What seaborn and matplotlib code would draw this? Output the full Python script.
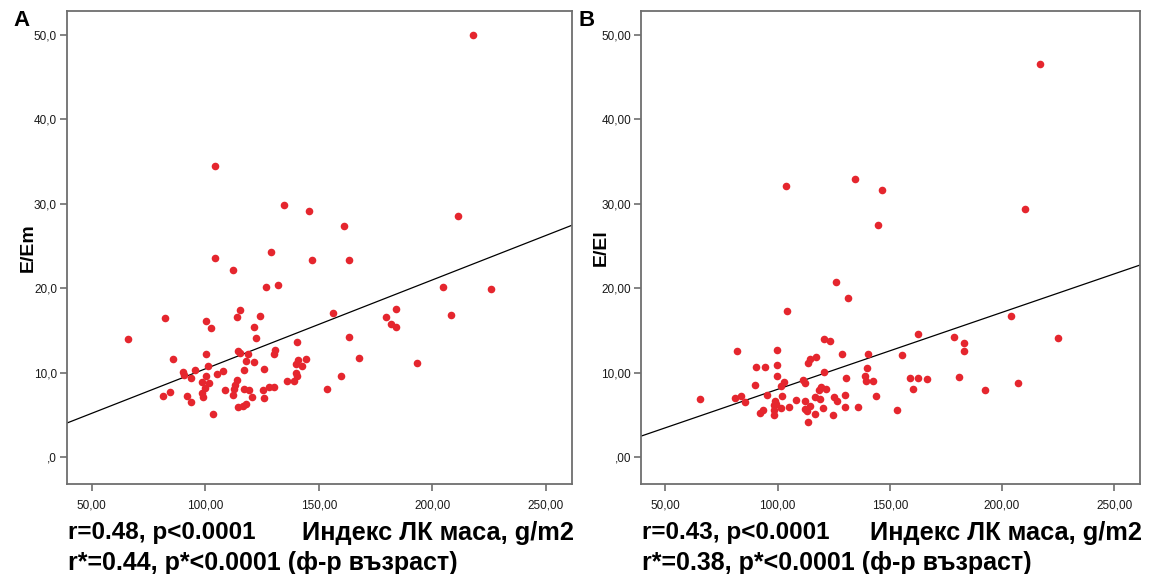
import matplotlib
matplotlib.use("Agg")
import matplotlib.pyplot as plt
import pandas as pd
import seaborn as sns

# LV mass index (g/m2) and E/Em, panel A
lvmi_a = [
    104.1, 134.8, 145.6, 104.4, 129.1, 147.0, 112.2, 126.6, 131.9, 82.3,
    100.2, 102.7, 115.2, 114.0, 124.0, 121.5, 122.2, 140.4, 156.1, 65.8,
    85.6, 100.2, 114.4, 115.2, 119.0, 130.9, 130.4, 118.0, 121.5, 140.9,
    144.5, 142.6, 140.1, 101.2, 90.4, 90.7, 95.3, 93.7, 105.3, 108.0,
    117.2, 125.9, 100.2, 139.8, 140.4, 136.2, 138.9, 98.6, 101.7, 114.0,
    113.1, 99.7, 108.5, 112.7, 117.2, 119.4, 125.3, 128.2, 130.4, 153.5,
    81.2, 84.3, 92.1, 93.9, 98.6, 99.2, 112.2, 120.4, 126.0, 114.3,
    116.5, 118.1, 103.4, 217.8, 161.1, 211.4, 163.3, 204.9, 225.9, 183.9,
    179.6, 181.9, 183.9, 208.0, 163.2, 167.6, 193.1, 159.8,
]
e_em = [
    34.41, 29.83, 29.17, 23.56, 24.23, 23.37, 22.14, 20.09, 20.32, 16.45,
    16.06, 15.23, 17.37, 16.57, 16.69, 15.35, 14.13, 13.58, 17.05, 13.97,
    11.65, 12.19, 12.59, 12.31, 12.16, 12.71, 12.19, 11.36, 11.21, 11.53,
    11.56, 10.74, 10.97, 10.77, 10.11, 9.75, 10.30, 9.32, 9.87, 10.14,
    10.30, 10.46, 9.64, 9.99, 9.55, 9.04, 9.00, 8.84, 8.76, 9.08,
    8.49, 8.17, 7.98, 8.10, 8.10, 7.90, 7.93, 8.29, 8.29, 8.10,
    7.27, 7.66, 7.19, 6.56, 7.58, 7.10, 7.30, 7.10, 7.03, 5.97,
    6.00, 6.32, 5.05, 50.00, 27.31, 28.53, 23.37, 20.12, 19.85, 17.48,
    16.57, 15.71, 15.39, 16.77, 14.25, 11.68, 11.09, 9.55,
]

# LV mass index (g/m2) and E/El, panel B
lvmi_b = [
    103.6, 134.3, 146.5, 144.9, 126.2, 131.4, 104.0, 120.9, 123.4, 81.7,
    99.8, 128.6, 140.4, 155.4, 114.6, 117.2, 113.4, 90.2, 94.6, 99.8,
    139.7, 120.9, 99.6, 130.6, 138.8, 139.4, 142.5, 102.8, 101.3, 111.5,
    112.4, 90.0, 119.4, 121.6, 118.3, 65.6, 81.0, 83.9, 85.3, 95.1,
    102.0, 108.0, 112.3, 116.5, 119.1, 125.0, 129.9, 126.5, 144.0, 98.9,
    98.6, 101.3, 105.0, 112.1, 114.6, 120.3, 130.1, 135.7, 153.2, 92.0,
    93.3, 98.6, 112.9, 116.7, 124.7, 113.7, 217.1, 210.4, 204.2, 225.1,
    162.7, 178.8, 183.0, 183.1, 159.1, 162.5, 166.8, 160.5, 181.0, 192.3,
    207.2, 98.2, 99.4,
]
e_el = [
    32.04, 32.91, 31.61, 27.43, 20.76, 18.87, 17.25, 13.97, 13.73, 12.55,
    12.67, 12.16, 12.19, 12.07, 11.65, 11.80, 11.09, 10.65, 10.65, 10.89,
    10.58, 10.11, 9.55, 9.40, 9.55, 9.00, 8.96, 8.84, 8.45, 9.08,
    8.76, 8.49, 8.25, 8.05, 7.90, 6.87, 6.95, 7.27, 6.48, 7.38,
    7.27, 6.79, 6.63, 7.10, 6.87, 7.10, 7.34, 6.63, 7.19, 6.63,
    6.16, 5.76, 5.97, 5.73, 6.00, 5.80, 5.88, 5.97, 5.56, 5.21,
    5.53, 4.97, 5.45, 5.05, 5.02, 4.19, 46.52, 29.32, 16.65, 14.09,
    14.52, 14.25, 13.54, 12.55, 9.35, 9.35, 9.23, 8.05, 9.47, 7.98,
    8.76, 5.53, 6.32,
]

# Linear fit lines: intercept, slope
fit_a = (-0.10, 0.1053)
fit_b = (-1.10, 0.0911)

x_ticks = [50, 100, 150, 200, 250]
x_tick_labels = ["50,00", "100,00", "150,00", "200,00", "250,00"]
y_ticks = [0, 10, 20, 30, 40, 50]
y_tick_labels_a = [",0", "10,0", "20,0", "30,0", "40,0", "50,0"]
y_tick_labels_b = [",00", "10,00", "20,00", "30,00", "40,00", "50,00"]

panel_letters = ["A", "B"]
y_titles = ["E/Em", "E/El"]
x_title = "Индекс ЛК маса, g/m2"
stats_main = ["r=0.48, p<0.0001", "r=0.43, p<0.0001"]
stats_adj = ["r*=0.44, p*<0.0001 (ф-р възраст)", "r*=0.38, p*<0.0001 (ф-р възраст)"]

XLIM = (39.0, 261.5)
YLIM = (-3.2, 52.8)

sns.set_style("ticks")
plt.rcParams["font.family"] = ["Liberation Sans", "DejaVu Sans"]

W, H = 1154, 574
fig = plt.figure(figsize=(W / 100, H / 100), dpi=100)

panels = [
    dict(x=lvmi_a, y=e_em, fit=fit_a, ylabels=y_tick_labels_a,
         box=(66.7, 572.0), letter_xy=(21, 21), ytitle_x=28),
    dict(x=lvmi_b, y=e_el, fit=fit_b, ylabels=y_tick_labels_b,
         box=(640.7, 1140.0), letter_xy=(587, 21), ytitle_x=601),
]

top_px, bottom_px = 11.0, 484.0
red = "#e5262e"
spine_col = "#6e6e6e"
txt = "black"
note_font = dict(fontweight="bold", va="center", color=txt)

for i, p in enumerate(panels):
    l, r = p["box"]
    ax = fig.add_axes([l / W, 1 - bottom_px / H, (r - l) / W, (bottom_px - top_px) / H])
    df = pd.DataFrame({"lvmi": p["x"], "ratio": p["y"]})
    sns.scatterplot(data=df, x="lvmi", y="ratio", ax=ax, color=red,
                    s=30, linewidth=0, alpha=1, zorder=3)
    b0, b1 = p["fit"]
    line_df = pd.DataFrame({"lvmi": list(XLIM),
                            "ratio": [b0 + b1 * XLIM[0], b0 + b1 * XLIM[1]]})
    sns.lineplot(data=line_df, x="lvmi", y="ratio", ax=ax, color="black",
                 linewidth=0.9, zorder=2)
    ax.set_xlim(*XLIM)
    ax.set_ylim(*YLIM)
    ax.set_xticks(x_ticks)
    ax.set_xticklabels(x_tick_labels)
    ax.set_yticks(y_ticks)
    ax.set_yticklabels(p["ylabels"])
    ax.set_xlabel("")
    ax.set_ylabel("")
    for sp in ax.spines.values():
        sp.set_color(spine_col)
        sp.set_linewidth(1.3)
        sp.set_visible(True)
    ax.tick_params(axis="both", which="major", direction="out", length=5,
                   width=1.2, color=spine_col, labelsize=8.5,
                   labelcolor="#1a1a1a", pad=2, bottom=True, left=True,
                   top=False, right=False)
    ax.tick_params(axis="x", pad=6)
    ax.grid(False)

    # panel letter and y title
    fig.text(p["letter_xy"][0] / W, 1 - p["letter_xy"][1] / H, panel_letters[i],
             fontsize=16, fontweight="bold", ha="center", va="center", color=txt)
    fig.text(p["ytitle_x"] / W, 1 - ((top_px + bottom_px) / 2) / H, y_titles[i],
             fontsize=14, fontweight="bold", rotation=90, ha="center",
             va="center", color=txt)

    # statistics and x title below the plot
    fig.text((l + 1) / W, 1 - 533 / H, stats_main[i], ha="left",
             fontsize=17.5, **note_font)
    fig.text((r + 2) / W, 1 - 533 / H, x_title, ha="right",
             fontsize=18.3, **note_font)
    fig.text((l + 1) / W, 1 - 563 / H, stats_adj[i], ha="left",
             fontsize=18, **note_font)

fig.savefig("out.png", dpi=100)
